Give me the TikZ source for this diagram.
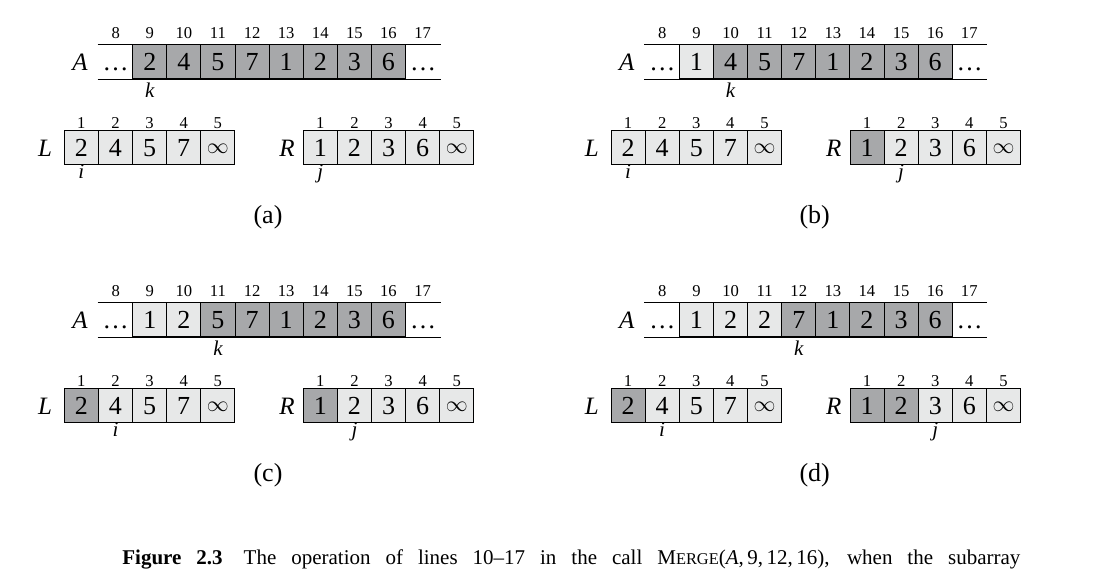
\documentclass[tikz,border=0pt]{standalone}
\usepackage{fontspec}
\setmainfont{Liberation Serif}
\definecolor{shadedark}{HTML}{A7A8AA}
\definecolor{shadelite}{HTML}{E7E8E8}
\tikzset{
  cell/.style={draw, line width=0.5pt, minimum width=17.05pt, minimum height=17pt,
    inner sep=0pt, text height=8.8pt, text depth=0pt, font=\fontsize{13}{13}\selectfont},
  darkcell/.style={cell, fill=shadedark},
  litecell/.style={cell, fill=shadelite},
  dotcell/.style={cell, draw=none},
  idx/.style={inner sep=0pt, anchor=base, font=\fontsize{8.3}{9}\selectfont},
  lbl/.style={inner sep=0pt, font=\fontsize{12.5}{13}\selectfont\itshape},
  ptr/.style={inner sep=0pt, anchor=base, font=\fontsize{10.5}{11}\selectfont\itshape},
  tag/.style={inner sep=0pt, font=\fontsize{13}{13}\selectfont},
}
\def\origA{{2,4,5,7,1,2,3,6}}
\def\sortedA{{1,2,2,3,4,5,6,7}}
\newcommand{\inftycell}{\raisebox{1.8pt}{\fontsize{11}{11}\selectfont$\infty$}}

\begin{document}
\begin{tikzpicture}[x=0.5pt, y=-0.5pt]
  \useasboundingbox (0,0) rectangle (1098,581);
  % four snapshots: shift, tag, copied cells of A, used cells of L and R
  \foreach \dx/\dy/\tg/\na/\nl/\nr in {0/0/a/0/0/0, 546.7/0/b/1/0/1, 0/258/c/2/1/1, 546.7/258/d/3/1/2}{
    \begin{scope}[shift={(\dx,\dy)}]
      % array A
      \draw [line width=0.5pt] (97.7,45) -- (440.5,45) (97.7,79.3) -- (440.5,79.3);
      \node [lbl] (A\tg) at (80,62) {A};
      \node [dotcell] (Adl\tg) at (115.65,62) {\dots};
      \node [dotcell] (Adr\tg) at (423,62) {\dots};
      \foreach \n in {9,...,16}{
        \pgfmathtruncatemacro\pos{\n-9}
        \ifnum\pos<\na
          \pgfmathtruncatemacro\v{\sortedA[\pos]}\def\sty{litecell}
        \else
          \pgfmathtruncatemacro\v{\origA[\pos]}\def\sty{darkcell}
        \fi
        \node [\sty] (A\tg\n) at ({149.75+(\n-9)*34.1},62) {\v};
      }
      \foreach \n in {8,...,17}
        \node [idx] (Ai\tg\n) at ({115.65+(\n-8)*34.1},39) {\n};
      \node [ptr] (k\tg) at ({149.75+\na*34.1},98) {k};
      % arrays L and R
      \node [lbl] (L\tg) at (45,148) {L};
      \node [lbl] (R\tg) at (287,148) {R};
      \foreach \n/\v in {1/2,2/4,3/5,4/7,5/\inftycell}{
        \ifnum\n>\nl \def\sty{litecell}\else \def\sty{darkcell}\fi
        \node [\sty] (L\tg\n) at ({81.35+(\n-1)*34.1},148) {\v};
        \node [idx] (Li\tg\n) at ({81.35+(\n-1)*34.1},128.3) {\n};
      }
      \foreach \n/\v in {1/1,2/2,3/3,4/6,5/\inftycell}{
        \ifnum\n>\nr \def\sty{litecell}\else \def\sty{darkcell}\fi
        \node [\sty] (R\tg\n) at ({320.35+(\n-1)*34.1},148) {\v};
        \node [idx] (Ri\tg\n) at ({320.35+(\n-1)*34.1},128.3) {\n};
      }
      \node [ptr] (i\tg) at ({81.35+\nl*34.1},179) {i};
      \node [ptr] (j\tg) at ({320.35+\nr*34.1},179) {j};
      % subtext
      \node [tag] (tag\tg) at (268,217) {(\tg)};
    \end{scope}
  }
  % caption
  \node [inner sep=0pt, anchor=base west, font=\fontsize{10.5}{12}\selectfont] (caption) at (122,565)
    {\hbox to 449pt{\textbf{Figure 2.3}\quad The operation of lines 10--17 in the call
     M{\fontsize{8.2}{10}\selectfont ERGE}(\textit{A},\,9,\,12,\,16), when the subarray}};
\end{tikzpicture}
\end{document}
